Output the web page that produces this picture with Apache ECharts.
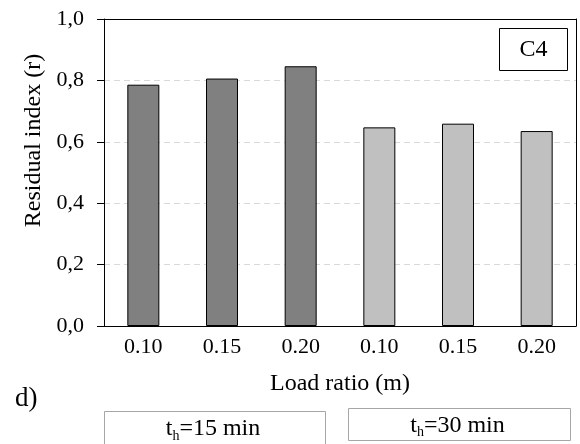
<!DOCTYPE html>
<html>
<head>
<meta charset="utf-8">
<script src="https://cdn.jsdelivr.net/npm/echarts@6/dist/echarts.min.js"></script>
<style>
  html, body { margin: 0; padding: 0; background: #fff; }
  #chart { width: 580px; height: 444px; }
</style>
</head>
<body>
<div id="chart"></div>
<script>
// Load ratios, repeated for the two holding times
const categories = ['0.10', '0.15', '0.20', '0.10', '0.15', '0.20'];
// Residual index r for holding time 15 min and 30 min
const r15 = [0.786, 0.806, 0.846, null, null, null];
const r30 = [null, null, null, 0.647, 0.659, 0.635];
const yTicks = [0, 0.2, 0.4, 0.6, 0.8, 1.0];
const seriesLabels = [['t', 'h', '=15 min'], ['t', 'h', '=30 min']];
const panelTag = 'C4';
const panelLetter = 'd)';

const FONT = '"Liberation Serif", "Times New Roman", serif';
const chart = echarts.init(document.getElementById('chart'), null, { renderer: 'canvas' });

function richLabel(parts) {
  return '{n|' + parts[0] + '}{s|' + parts[1] + '}{n|' + parts[2] + '}';
}

const legendBoxes = [
  { x: 104.5, y: 411.5, w: 221, h: 33 },
  { x: 348.5, y: 408.5, w: 222, h: 32 }
];

const graphics = [];
legendBoxes.forEach(function (b, i) {
  graphics.push({
    type: 'rect',
    shape: { x: b.x, y: b.y, width: b.w, height: b.h },
    style: { fill: '#fff', stroke: '#a6a6a6', lineWidth: 1 }
  });
  graphics.push({
    type: 'text',
    x: b.x + b.w / 2 - 2,
    y: b.y + b.h / 2 + 1,
    style: {
      text: richLabel(seriesLabels[i]),
      align: 'center',
      verticalAlign: 'middle',
      rich: {
        n: { fontFamily: FONT, fontSize: 24, fill: '#000' },
        s: { fontFamily: FONT, fontSize: 14, fill: '#000', padding: [14, 0, 0, 0] }
      }
    }
  });
});
graphics.push({
  type: 'rect',
  shape: { x: 499.5, y: 28.5, width: 68, height: 42 },
  style: { fill: '#fff', stroke: '#000', lineWidth: 1 }
});
graphics.push({
  type: 'text',
  x: 533.5, y: 50,
  style: { text: panelTag, align: 'center', verticalAlign: 'middle', fontFamily: FONT, fontSize: 24, fill: '#000' }
});
graphics.push({
  type: 'text',
  x: 15, y: 399,
  style: { text: panelLetter, align: 'left', verticalAlign: 'middle', fontFamily: FONT, fontSize: 27, fill: '#000' }
});

// Axes used only to close the plot frame on the top and right
const frameAxis = {
  axisLine: { show: true, onZero: false, lineStyle: { color: '#000', width: 1 } },
  axisTick: { show: false },
  axisLabel: { show: false },
  splitLine: { show: false },
  z: 10
};

const option = {
  animation: false,
  backgroundColor: '#fff',
  grid: { left: 104, top: 19, right: 4, bottom: 118 },
  xAxis: [
    {
      type: 'category',
      data: categories,
      axisLine: { onZero: false, lineStyle: { color: '#000', width: 1 } },
      axisTick: { show: false },
      axisLabel: { color: '#000', fontFamily: FONT, fontSize: 22, margin: 10, interval: 0 },
      name: 'Load ratio (m)',
      nameLocation: 'middle',
      nameGap: 46,
      nameTextStyle: { color: '#000', fontFamily: FONT, fontSize: 24 }
    },
    Object.assign({ type: 'category', data: categories, position: 'top' }, frameAxis)
  ],
  yAxis: [
    {
      type: 'value',
      min: yTicks[0],
      max: yTicks[yTicks.length - 1],
      interval: 0.2,
      axisLine: { show: true, onZero: false, lineStyle: { color: '#000', width: 1 } },
      axisTick: { show: true, inside: false, length: 7, lineStyle: { color: '#000' } },
      axisLabel: {
        color: '#000', fontFamily: FONT, fontSize: 22, margin: 20,
        formatter: function (v) { return v.toFixed(1).replace('.', ','); }
      },
      splitLine: {
        show: true, showMinLine: false, showMaxLine: false,
        lineStyle: { color: '#d9d9d9', type: [6, 4], width: 1 }
      },
      name: 'Residual index (r)',
      nameLocation: 'middle',
      nameGap: 58,
      nameTextStyle: { color: '#000', fontFamily: FONT, fontSize: 24, padding: [0, 0, 0, 64] }
    },
    Object.assign({
      type: 'value', position: 'right',
      min: yTicks[0], max: yTicks[yTicks.length - 1], interval: 0.2
    }, frameAxis)
  ],
  series: [
    {
      name: 't_h=15 min', type: 'bar', stack: 'r', data: r15, barWidth: 32,
      itemStyle: { color: '#808080', borderColor: '#000', borderWidth: 1 }
    },
    {
      name: 't_h=30 min', type: 'bar', stack: 'r', data: r30, barWidth: 32,
      itemStyle: { color: '#c0c0c0', borderColor: '#000', borderWidth: 1 }
    }
  ],
  graphic: graphics
};

chart.setOption(option);
</script>
</body>
</html>
